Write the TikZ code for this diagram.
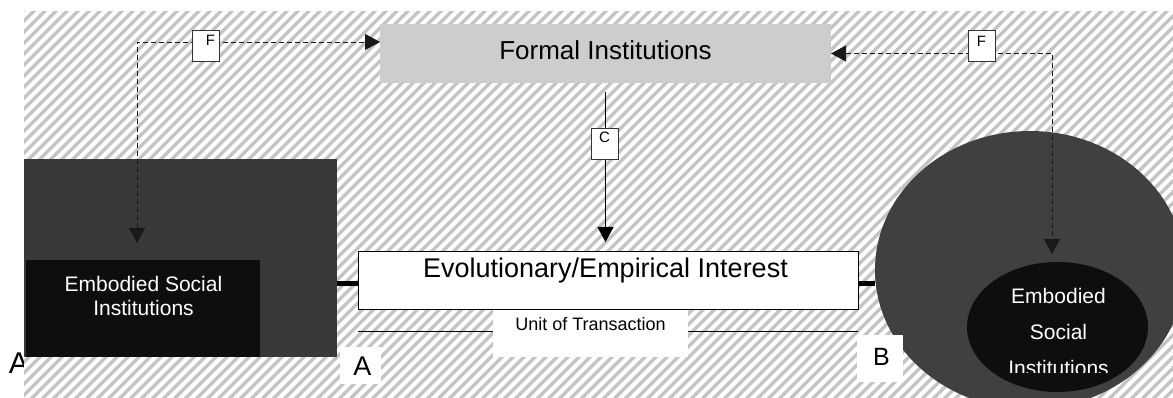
\documentclass[tikz,border=0pt]{standalone}
\usepackage{fontspec}
\setmainfont{Liberation Sans}
\usetikzlibrary{arrows.meta,shapes.geometric}
\definecolor{formalgray}{RGB}{206,205,206}
\definecolor{darkfill}{RGB}{58,57,56}
\definecolor{innerblk}{RGB}{14,14,14}
\definecolor{bigellfill}{RGB}{64,64,64}
\definecolor{hatchgray}{RGB}{196,196,196}
\newcommand\myfs[1]{\fontsize{#1}{#1}\selectfont}
\tikzset{
  plainbox/.style={rectangle, inner sep=0pt, outer sep=0pt},
  lblbox/.style={plainbox, fill=white, draw=black!80, line width=0.8pt, minimum width=27pt, minimum height=31pt},
  lbltext/.style={inner sep=0pt, anchor=base, font=\myfs{15}},
  bigtext/.style={inner sep=0pt, anchor=base, font=\myfs{26}},
  midtext/.style={inner sep=0pt, anchor=base, font=\myfs{21}, text=white},
  tip/.style={-{Triangle[length=15pt,width=16pt]}},
  dline/.style={draw=black!90, line width=0.8pt, dash pattern=on 5pt off 3pt},
}
\begin{document}
\begin{tikzpicture}[x=1pt,y=-1pt]
\useasboundingbox (0,0) rectangle (1173,398);
% letter A partly hidden by the background
\node[inner sep=0pt, anchor=base, font=\myfs{30}] (aleft) at (19,373) {A};
% hatched background
\begin{scope}
  \clip (24,12) rectangle (1173,398);
  \fill[white] (24,12) rectangle (1173,398);
  \foreach \i in {0,...,145} {
    \draw[hatchgray, line width=3.3pt] ({\i*11-420},410) -- ++(420,-420);
  }
\end{scope}
% left region
\node[plainbox, fill=darkfill, minimum width=313pt, minimum height=198pt] (dark) at (180.5,258) {};
\node[plainbox, fill=innerblk, minimum width=234pt, minimum height=97pt] (innerleft) at (143,308.5) {};
\node[midtext] (el1) at (143.5,291) {Embodied Social};
\node[midtext] (el2) at (143.5,316) {Institutions};
% right region
\node[ellipse, fill=bigellfill, inner sep=0pt, minimum width=310pt, minimum height=278pt] (bigell) at (1030,270) {};
\node[ellipse, fill=innerblk, inner sep=0pt, minimum width=181pt, minimum height=130pt] (innerell) at (1057.5,327) {};
\begin{scope}
  \clip (900,250) rectangle (1173,372);
  \node[midtext] (er1) at (1058.5,303) {Embodied};
  \node[midtext] (er2) at (1058.5,339) {Social};
  \node[midtext] (er3) at (1058.5,375) {Institutions};
\end{scope}
% formal institutions
\node[plainbox, fill=formalgray, minimum width=451pt, minimum height=59pt] (formal) at (605.5,53.5) {};
\node[bigtext] (formaltxt) at (605.5,60) {Formal Institutions};
% evolutionary box
\node[plainbox, fill=white, draw=black, line width=1pt, minimum width=500pt, minimum height=57pt] (evo) at (608,280.5) {};
\node[bigtext, font=\myfs{27}] (evotxt) at (605.5,277) {Evolutionary/Empirical Interest};
% thick links
\draw[line width=5pt] ([yshift=-25pt]dark.east) -- ([yshift=-25pt]dark.east -| evo.west);
\draw[line width=5pt] ([yshift=-2.5pt]evo.east) -- ([yshift=-13pt]bigell.west);
% unit of transaction
\draw[line width=0.9pt] ([yshift=-22pt]evo.south west) -- ([yshift=-22pt]evo.south east);
\node[plainbox, fill=white, minimum width=195pt, minimum height=47pt] (ubox) at (590.5,333.5) {};
\node[inner sep=0pt, anchor=base, font=\myfs{18}] (utxt) at (590.5,330) {Unit of Transaction};
% A and B labels
\node[plainbox, fill=white, minimum width=41pt, minimum height=37pt] (abox) at (360.5,365.5) {};
\node[inner sep=0pt, anchor=base, font=\myfs{27}] (atxt) at (362.5,375) {A};
\node[plainbox, fill=white, minimum width=46pt, minimum height=47pt] (bbox) at (880,358.5) {};
\node[inner sep=0pt, anchor=base, font=\myfs{25}] (btxt) at (881.5,365) {B};
% connectors
\coordinate (lefttip) at (137,243);
\coordinate (righttip) at (1052,254);
\draw[dline, {Triangle[length=15pt,width=16pt]}-{Triangle[length=15pt,width=16pt]}] (lefttip) |- ([yshift=11.5pt]formal.west);
\draw[dline, {Triangle[length=15pt,width=16pt]}-{Triangle[length=15pt,width=16pt]}] (formal.east) -| (righttip);
\draw[line width=0.8pt, tip] ([yshift=-9pt]formal.south) -- ([yshift=10pt]evo.north -| formal.south);
% F and C labels
\node[lblbox] (f1) at (205.5,46) {};
\node[lbltext] (f1t) at (210.5,46) {F};
\node[lblbox] (f2) at (981.5,46) {};
\node[lbltext] (f2t) at (981.5,47) {F};
\node[lblbox] (c1) at (604.5,143.5) {};
\node[lbltext] (c1t) at (604.5,143) {C};
\end{tikzpicture}
\end{document}
